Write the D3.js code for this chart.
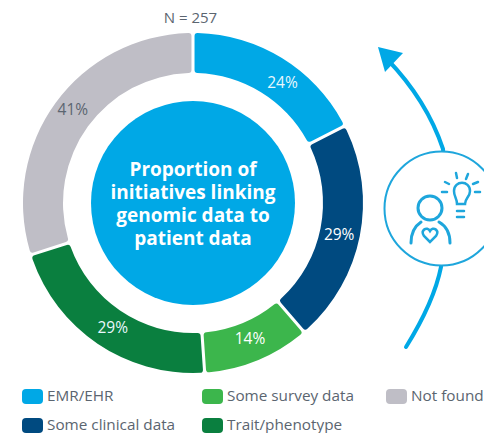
<!DOCTYPE html>
<html>
<head>
	<meta charset="utf-8">
	<script src="https://d3js.org/d3.v7.min.js"></script>
	<style>
		html, body { margin: 0; padding: 0; background: #fff; }
		svg { display: block; }
		text { font-family: "Open Sans", sans-serif; }
	</style>
</head>
<body>
	<svg id="chart" width="484" height="433"></svg>
	<script>
		var categories = ['EMR/EHR', 'Some clinical data', 'Some survey data', 'Trait/phenotype', 'Not found'];
		var values = [24, 29, 14, 29, 41];
		var colors = ['#00a8e6', '#004a80', '#3cb64c', '#0a7f3f', '#bfbec6'];
		var labelColors = ['#e8f7fd', '#fff', '#fff', '#e8f7fd', '#5b6570'];
		var centerLines = ['Proportion of', 'initiatives linking', 'genomic data to', 'patient data'];
		var sampleLabel = 'N = 257';

		var svg = d3.select('#chart');
		var cx = 193, cy = 203;

		// the shares add up to more than 100, the ring just splits by value
		var pie = d3.pie().sort(null).value(function(d) { return d; });
		var arc = d3.arc()
			.innerRadius(130)
			.outerRadius(170)
			.padAngle(0.018)
			.padRadius(170)
			.cornerRadius(3);

		var ring = svg.append('g').attr('transform', 'translate(' + cx + ',' + cy + ')');

		ring.selectAll('path')
			.data(pie(values))
			.enter()
			.append('path')
			.attr('d', arc)
			.attr('fill', function(d, i) { return colors[i]; });

		// small nudges so the labels sit where the original has them
		var nudge = [[11, 7], [-1, 3], [0, -3], [4, 0], [1, -5]];
		ring.selectAll('text.share')
			.data(pie(values))
			.enter()
			.append('text')
			.attr('class', 'share')
			.attr('transform', function(d, i) {
				var c = arc.centroid(d);
				return 'translate(' + (c[0] + nudge[i][0]) + ',' + (c[1] + nudge[i][1]) + ')';
			})
			.attr('text-anchor', 'middle')
			.attr('dy', '.35em')
			.attr('font-size', 15.5)
			.attr('fill', function(d, i) { return labelColors[i]; })
			.text(function(d) { return d.value + '%'; });

		ring.append('circle').attr('r', 102).attr('fill', colors[0]);

		// one text element with tspans, the lines sit tighter than the font's line box
		ring.append('text')
			.attr('text-anchor', 'middle')
			.attr('font-size', 19)
			.attr('font-weight', 700)
			.attr('fill', '#fff')
			.selectAll('tspan')
			.data(centerLines)
			.enter()
			.append('tspan')
			.attr('x', 0)
			.attr('y', function(d, i) { return -27 + i * 23; })
			.text(function(d) { return d; });

		svg.append('text')
			.attr('x', 190.5)
			.attr('y', 23)
			.attr('text-anchor', 'middle')
			.attr('font-size', 15)
			.attr('fill', '#5b6570')
			.text(sampleLabel);

		// arrow behind the icon circle
		var blue = '#00a8e6';
		svg.append('path')
			.attr('d', 'M406,347 C424,318 436,292 441,267 C447,225 447,190 443,149 C432,116 413,86 387,59')
			.attr('fill', 'none')
			.attr('stroke', blue)
			.attr('stroke-width', 4)
			.attr('stroke-linecap', 'round');
		svg.append('path')
			.attr('d', 'M378,47 L403,53 L385,72 Z')
			.attr('fill', blue);

		var icon = svg.append('g')
			.attr('fill', 'none')
			.attr('stroke', '#1ea6dc')
			.attr('stroke-linecap', 'round');
		icon.append('circle').attr('cx', 441.5).attr('cy', 208.5).attr('r', 57).attr('fill', '#fff').attr('stroke-width', 2);
		icon.append('circle').attr('cx', 430).attr('cy', 208).attr('r', 12).attr('stroke-width', 3);
		icon.append('path').attr('d', 'M411,243 C411,232 415,226 421,222 M450,243 C450,232 446,226 439,222').attr('stroke-width', 3);
		icon.append('path').attr('d', 'M430,242 L424,236 C420,230 427,226 430,231 C433,226 440,230 436,236 Z').attr('stroke-width', 2.5);
		icon.append('path').attr('d', 'M457,204 C457,198 454,197 454,191 C454,180 470,180 470,191 C470,197 465,198 465,204 Z').attr('stroke-width', 2.5);
		icon.append('path').attr('d', 'M457,211 H464 M457,217 H464').attr('stroke-width', 2.5);
		icon.append('path').attr('d', 'M442,192 H447 M445,182 L449,184 M456,173 L457,178 M468,174 L466,179 M478,182 L473,184 M475,192 H480').attr('stroke-width', 2.5);

		// legend
		var legendX = [22, 22, 202, 202, 386];
		var legendY = [397, 426, 397, 426, 397];
		var legend = svg.selectAll('g.legend')
			.data(categories)
			.enter()
			.append('g')
			.attr('class', 'legend')
			.attr('transform', function(d, i) { return 'translate(' + legendX[i] + ',' + legendY[i] + ')'; });
		legend.append('rect')
			.attr('y', -8)
			.attr('width', 21)
			.attr('height', 15)
			.attr('rx', 4)
			.attr('fill', function(d, i) { return colors[i]; });
		legend.append('text')
			.attr('x', 25)
			.attr('y', -1)
			.attr('dy', '.35em')
			.attr('font-size', 15.3)
			.attr('fill', '#5b6570')
			.text(function(d) { return d; });
	</script>
</body>
</html>
